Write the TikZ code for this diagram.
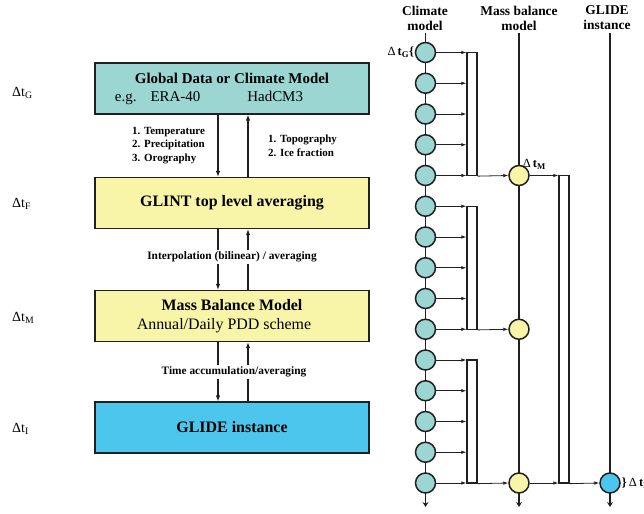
\documentclass[tikz,border=0pt]{standalone}
\usepackage{fontspec}
\setmainfont{Liberation Serif}
\usetikzlibrary{arrows.meta}

\definecolor{edgec}{RGB}{35,31,32}
\definecolor{climfill}{RGB}{155,214,211}
\definecolor{mbfill}{RGB}{249,245,168}
\definecolor{glidefill}{RGB}{76,198,236}

\tikzset{
  box/.style={draw=edgec, line width=1.2pt, minimum width=274bp, minimum height=51bp,
              inner sep=0pt, align=center, font=\fontsize{16}{19}\selectfont},
  flow/.style={draw=edgec, line width=1.5pt, -{Latex[length=6pt,width=4.5pt]}},
  lbl/.style={font=\bfseries\fontsize{11}{13.5}\selectfont, align=left, inner sep=1pt},
  midlbl/.style={font=\bfseries\fontsize{11.4}{12}\selectfont, fill=white, inner sep=2pt},
  dtlbl/.style={font=\fontsize{14}{16}\selectfont, inner sep=0pt, anchor=west},
  head/.style={font=\bfseries\fontsize{13.5}{15}\selectfont, align=center, inner sep=0pt},
  tstep/.style={circle, draw=edgec, line width=1.5pt, minimum size=20bp, inner sep=0pt},
  rail/.style={draw=edgec, line width=1.8pt},
  feed/.style={draw=edgec, line width=0.8pt, -{Latex[length=5pt,width=3.5pt]}},
  accbar/.style={draw=edgec, line width=1.3pt, fill=white, minimum width=10bp, inner sep=0pt},
  small/.style={font=\fontsize{12.5}{13}\selectfont, inner sep=0pt}
}

\begin{document}
\begin{tikzpicture}[x=1bp, y=-1bp]
\useasboundingbox (0,0) rectangle (644,514);

% ---------- left: coupling hierarchy ----------
\node[box, fill=climfill, font=\fontsize{15}{18}\selectfont] (gdm) at (232,88.5)
  {\textbf{Global Data or Climate Model}\\
   e.g.\hspace{14bp}ERA-40\hspace{47bp}HadCM3\hspace*{46bp}};
\node[box, fill=mbfill] (glint) at (232,203)
  {\textbf{GLINT top level averaging}};
\node[box, fill=mbfill] (mbm) at (232,316)
  {\textbf{Mass Balance Model}\\Annual/Daily PDD scheme\hspace*{16bp}};
\node[box, fill=glidefill] (glide) at (232,427.5)
  {\textbf{GLIDE instance}};

\draw[flow] ([xshift=-14bp]gdm.south) -- ([xshift=-14bp]glint.north);
\draw[flow] ([xshift=16bp]glint.north) -- ([xshift=16bp]gdm.south);
\draw[flow] ([xshift=-14bp]glint.south) -- ([xshift=-14bp]mbm.north);
\draw[flow] ([xshift=16bp]mbm.north) -- ([xshift=16bp]glint.south);
\draw[flow] ([xshift=-14bp]mbm.south) -- ([xshift=-14bp]glide.north);
\draw[flow] ([xshift=16bp]glide.north) -- ([xshift=16bp]mbm.south);

\node[lbl, anchor=west] (down1) at (131,145.5)
  {1. Temperature\\2. Precipitation\\3. Orography};
\node[lbl, anchor=west] (up1) at (267,146)
  {1. Topography\\2. Ice fraction};
\node[midlbl] (interp) at (232,257) {Interpolation (bilinear) / averaging};
\node[midlbl] (tacc) at (234,372) {Time accumulation/averaging};

\node[dtlbl] (dtg) at (12,93) {Δt\textsubscript{G}};
\node[dtlbl] (dtf) at (12,204) {Δt\textsubscript{F}};
\node[dtlbl] (dtm) at (12,318) {Δt\textsubscript{M}};
\node[dtlbl] (dti) at (12,429) {Δt\textsubscript{I}};

% ---------- right: time-stepping ----------
\node[head] (hclim) at (425,18) {Climate\\model};
\node[head] (hmb) at (519,18) {Mass balance\\model};
\node[head] (hgl) at (607,18) {GLIDE\\instance};

\coordinate (ctop) at (425.5,33);
\coordinate (cbot) at (425.5,507);
\coordinate (mtop) at (519,33);
\coordinate (mbot) at (519,507);
\coordinate (gtop) at (610,33);
\coordinate (gbot) at (610,507);
\draw[rail, -{Stealth[length=5pt,width=6pt]}] (ctop) -- (cbot);
\draw[rail, -{Stealth[length=5pt,width=6pt]}] (mtop) -- (mbot);
\draw[rail, -{Stealth[length=5pt,width=6pt]}] (gtop) -- (gbot);

\foreach \i in {1,...,15}
  \node[tstep, fill=climfill] (c\i) at (425.5,{52.5+30.75*(\i-1)}) {};

\node[tstep, fill=mbfill] (m1) at (519,175.5) {};
\node[tstep, fill=mbfill] (m2) at (519,329.25) {};
\node[tstep, fill=mbfill] (m3) at (519,483) {};
\node[tstep, fill=glidefill] (g1) at (610,483) {};

\node[accbar, minimum height=123bp] (b1) at (472,114) {};
\node[accbar, minimum height=123bp] (b2) at (472,267.75) {};
\node[accbar, minimum height=123bp] (b3) at (472,421.5) {};
\node[accbar, minimum height=307.5bp] (bb) at (564,329.25) {};

\foreach \i in {1,...,5}
  \draw[feed] (c\i.east) -- (c\i.east -| b1.west);
\foreach \i in {6,...,10}
  \draw[feed] (c\i.east) -- (c\i.east -| b2.west);
\foreach \i in {11,...,15}
  \draw[feed] (c\i.east) -- (c\i.east -| b3.west);

\draw[feed] (b1.south east) -- (m1.west);
\draw[feed] (b2.south east) -- (m2.west);
\draw[feed] (b3.south east) -- (m3.west);
\draw[feed] (m1.east) -- (m1.east -| bb.west);
\draw[feed] (m3.east) -- (m3.east -| bb.west);
\draw[feed] (bb.south east) -- (g1.west);

\node[small, anchor=east] (dtgr) at ([xshift=-0.5bp]c1.west)
  {Δ\,\textbf{t}\textsubscript{\textbf{G}}\textbf{\{}};
\node[small, anchor=south west] (dtmr) at ([xshift=-4bp,yshift=-2bp]m1.north east)
  {Δ\,\textbf{t}\textsubscript{\textbf{M}}};
\node[small, anchor=west] (dtir) at ([xshift=1bp]g1.east)
  {\textbf{\}}\,Δ\,\textbf{t}\textsubscript{\textbf{I}}};
\end{tikzpicture}
\end{document}
